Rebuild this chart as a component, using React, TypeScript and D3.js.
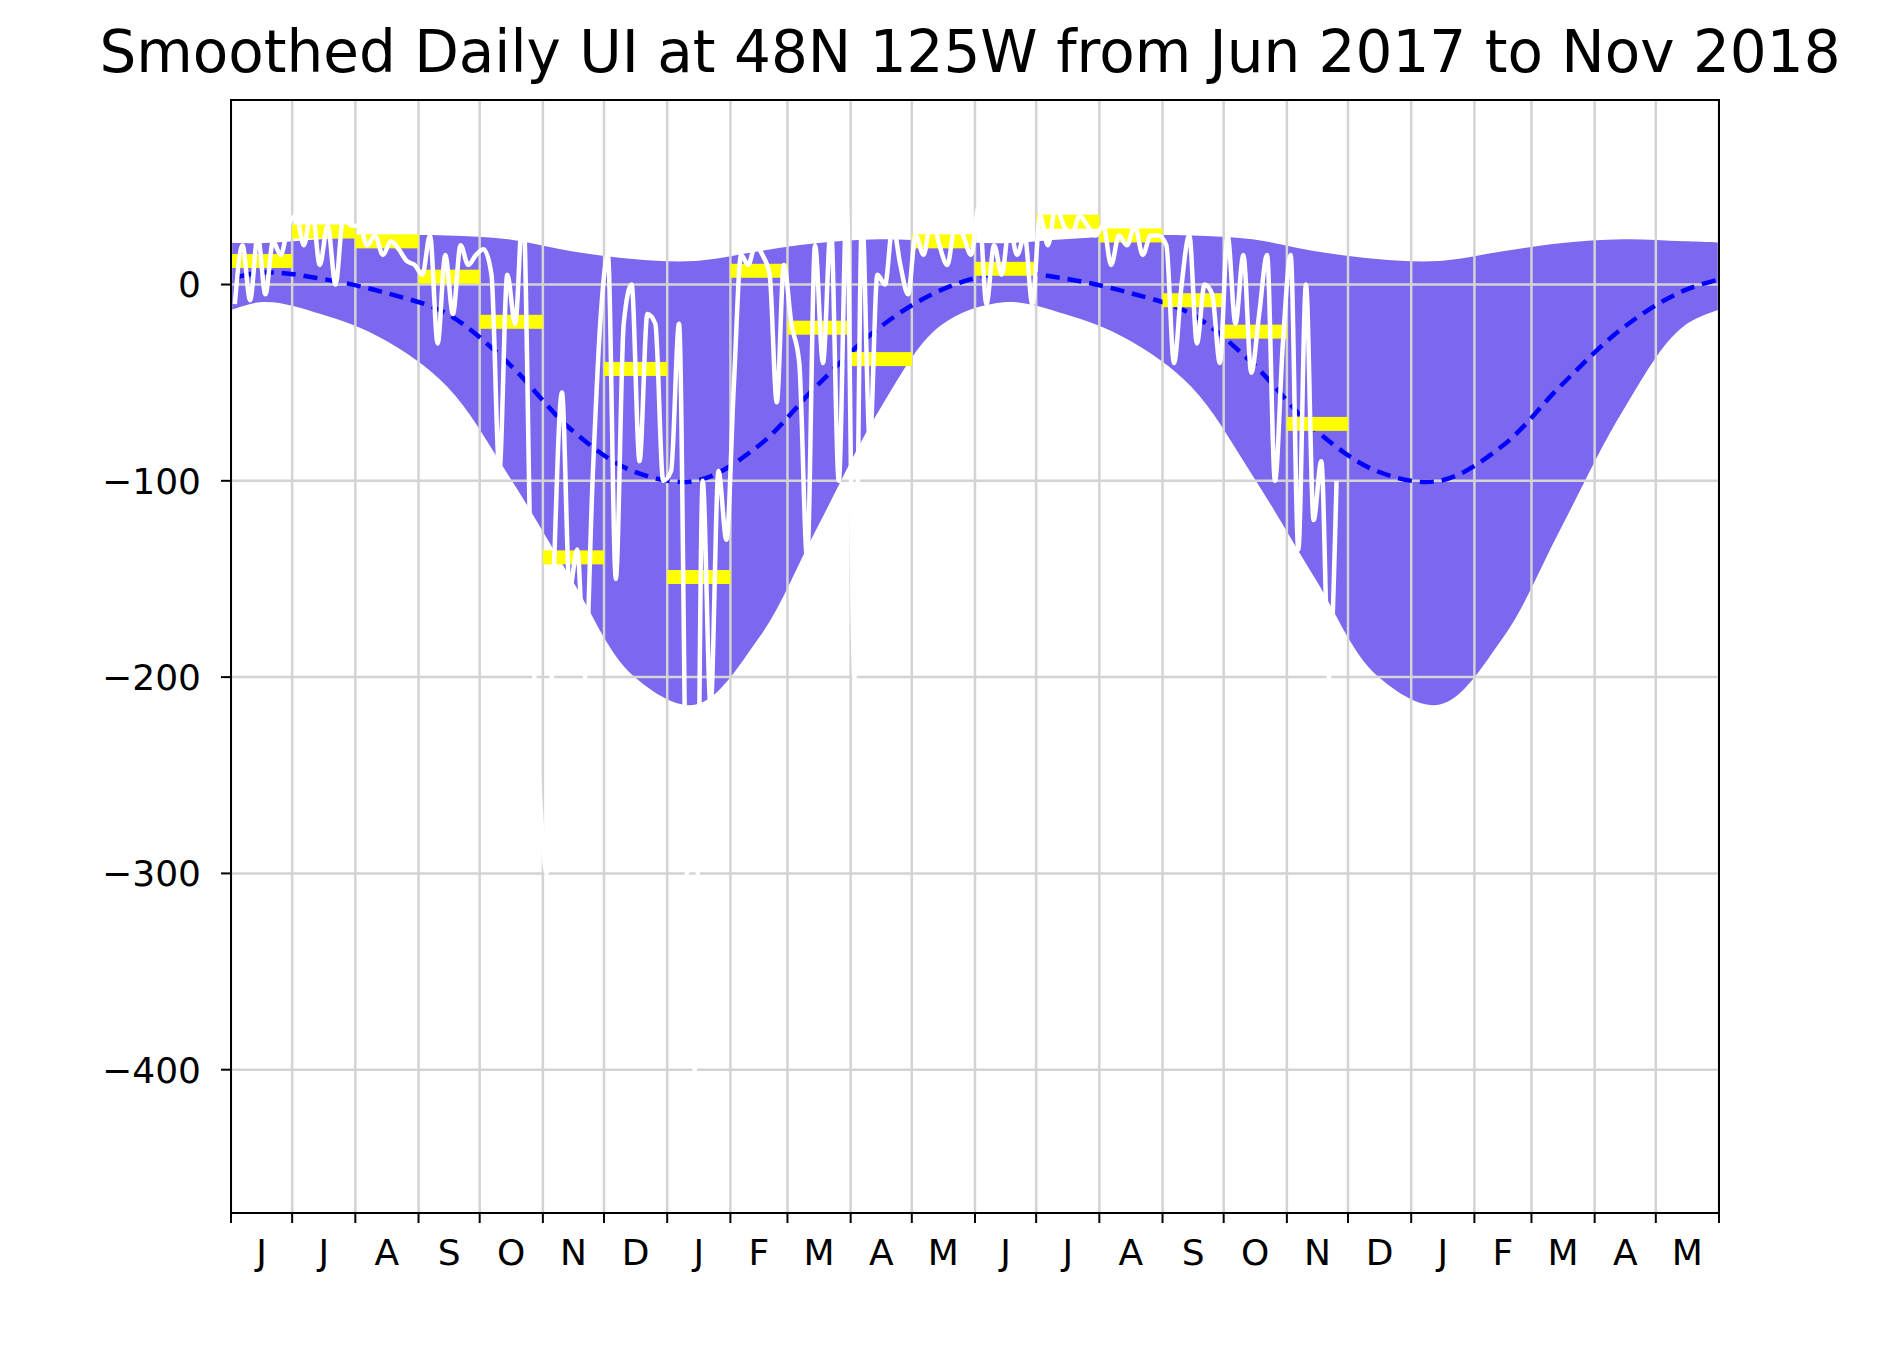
import React from 'react';
import * as d3 from 'd3';

// climatology at mid-month (May .. next Jun), repeated for both years
const climMonths = [4, 5, 6, 7, 8, 9, 10, 11, 0, 1, 2, 3, 4, 5];
const climMean = [-3, 6, 3, -4, -15, -40, -74, -95, -100, -82, -52, -22, -3, 6];
const climUpper = [22, 21, 23, 25, 25, 23, 17, 13, 12, 17, 21, 23, 22, 21];
const climLower = [-21, -9, -15, -28, -52, -97, -150, -199, -214, -180, -125, -64, -21, -9];

// monthly means, Jun 2017 .. Nov 2018
const monthlyMean = [12, 27, 22, 4, -19, -139, -43, -149, 7, -22, -38, 22, 8, 32, 25, -8, -24, -71];

// smoothed daily UI, ~8 samples per month
const dailyUI = [
  [-10, 20, -8, 25, -5, 22, 15, 30],
  [35, 20, 40, 10, 30, 0, 35, 30],
  [30, 20, 25, 15, 22, 18, 12, 10],
  [5, 25, -30, 15, -15, 20, 10, 15],
  [18, 5, -95, 5, -20, 40, -150, -250],
  [-300, -140, -55, -155, -135, -200, -100, -20],
  [15, -150, -20, 0, -90, -15, -20, -100],
  [-95, -20, -300, -400, -100, -215, -95, -130],
  [-50, 15, 10, 20, 15, 5, -60, 10],
  [-20, -40, -140, 20, -40, 30, -100, 40],
  [-200, 35, -80, 5, 0, 30, 10, -5],
  [25, 15, 35, 20, 10, 30, 25, 15],
  [40, -10, 20, 5, 30, 15, 25, -10],
  [35, 20, 40, 30, 25, 35, 30, 25],
  [30, 10, 25, 20, 30, 15, 25, 25],
  [20, -40, 0, 25, -30, 0, -5, -40],
  [25, -20, 15, -45, -15, 15, -100, -30],
  [15, -135, 0, -120, -90, -200, -100],
];

const monthLetters = ['J', 'F', 'M', 'A', 'M', 'J', 'J', 'A', 'S', 'O', 'N', 'D'];
const yTicks = [0, -100, -200, -300, -400];

const W = 1880, H = 1357;
const m = { left: 231, right: 1719, top: 100, bottom: 1213 };

export default function App() {
  const start = new Date(2017, 5, 1);
  const end = new Date(2019, 5, 1);
  const x = d3.scaleTime().domain([start, end]).range([m.left, m.right]);
  const y = d3.scaleLinear().domain([-473, 94]).range([m.bottom, m.top]);
  const months = d3.timeMonth.range(start, d3.timeDay.offset(end, 1));

  const clim: { d: Date; mean: number; up: number; lo: number }[] = [];
  [2017, 2018].forEach((yr, k) => {
    climMonths.forEach((mo, i) => {
      if (k === 1 && i < 2) return;
      const year = i >= 8 ? yr + 1 : yr;
      clim.push({ d: new Date(year, mo, 15), mean: climMean[i], up: climUpper[i], lo: climLower[i] });
    });
  });

  const curve = d3.curveCatmullRom;
  const area = d3.area<any>().x(d => x(d.d)).y0(d => y(d.lo)).y1(d => y(d.up)).curve(curve);
  const meanLine = d3.line<any>().x(d => x(d.d)).y(d => y(d.mean)).curve(curve);

  const daily: { d: Date; v: number }[] = [];
  dailyUI.forEach((arr, i) => {
    const ms = d3.timeMonth.offset(start, i);
    const days = d3.timeDay.count(ms, d3.timeMonth.offset(ms, 1));
    arr.forEach((v, j) => daily.push({ d: d3.timeHour.offset(ms, (j + 0.5) * days * 3), v }));
  });
  const uiLine = d3.line<any>().x(d => x(d.d)).y(d => y(d.v)).curve(d3.curveMonotoneX);

  const font = 'DejaVu Sans';
  return (
    <svg width={W} height={H} style={{ display: 'block', margin: -8 }} fontFamily={font}>
      <rect width={W} height={H} fill="#fff" />
      <text x={(m.left + m.right) / 2 - 5} y={72} textAnchor="middle" fontSize={58}>
        Smoothed Daily UI at 48N 125W from Jun 2017 to Nov 2018
      </text>
      <defs>
        <clipPath id="pc"><rect x={m.left} y={m.top} width={m.right - m.left} height={m.bottom - m.top} /></clipPath>
      </defs>
      <g clipPath="url(#pc)">
        <path d={area(clim) || ''} fill="#7b68ee" />
        {months.map((d, i) => (
          <line key={i} x1={x(d)} x2={x(d)} y1={m.top} y2={m.bottom} stroke="#d3d3d3" strokeWidth={2.5} />
        ))}
        {yTicks.map(t => (
          <line key={t} x1={m.left} x2={m.right} y1={y(t)} y2={y(t)} stroke="#d3d3d3" strokeWidth={2.5} />
        ))}
        <path d={meanLine(clim) || ''} fill="none" stroke="#0000ff" strokeWidth={4.5} strokeDasharray="14,8" />
        {monthlyMean.map((v, i) => {
          const a = d3.timeMonth.offset(start, i);
          const b = d3.timeMonth.offset(start, i + 1);
          return <rect key={i} x={x(a)} width={x(b) - x(a)} y={y(v) - 7} height={14} fill="#ffff00" />;
        })}
        <path d={uiLine(daily) || ''} fill="none" stroke="#fff" strokeWidth={4.5} />
      </g>
      <rect x={m.left} y={m.top} width={m.right - m.left} height={m.bottom - m.top} fill="none" stroke="#000" strokeWidth={2} />
      {yTicks.map(t => (
        <g key={t}>
          <line x1={m.left - 10} x2={m.left} y1={y(t)} y2={y(t)} stroke="#000" strokeWidth={2} />
          <text x={m.left - 30} y={y(t)} dy="0.36em" textAnchor="end" fontSize={36}>
            {t < 0 ? '\u2212' + Math.abs(t) : t}
          </text>
        </g>
      ))}
      {months.map((d, i) => {
        const next = d3.timeMonth.offset(d, 1);
        return (
          <g key={i}>
            <line x1={x(d)} x2={x(d)} y1={m.bottom} y2={m.bottom + 10} stroke="#000" strokeWidth={2} />
            {next <= end && (
              <text x={(x(d) + x(next)) / 2} y={m.bottom + 52} textAnchor="middle" fontSize={36}>
                {monthLetters[d.getMonth()]}
              </text>
            )}
          </g>
        );
      })}
    </svg>
  );
}
